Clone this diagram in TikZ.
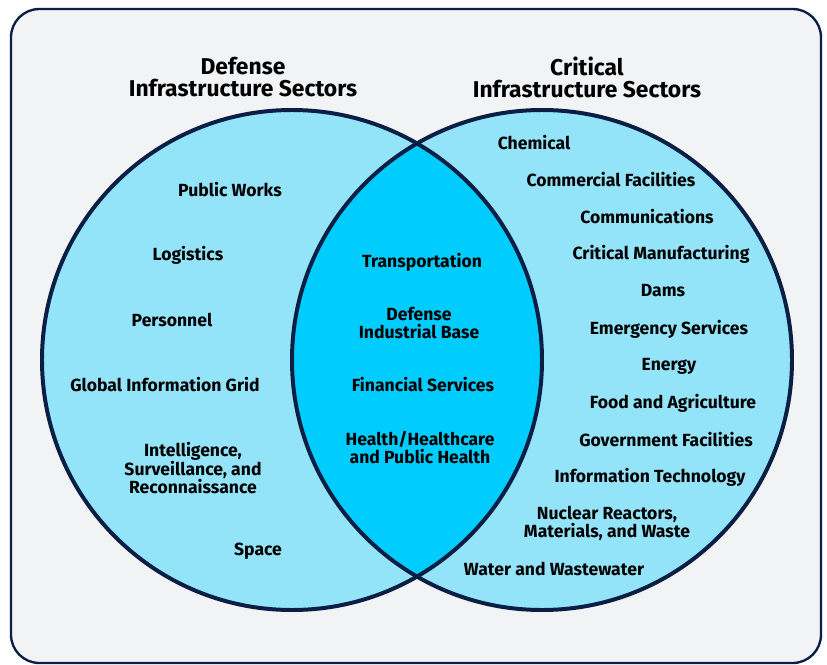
\documentclass[tikz,border=0pt]{standalone}
\usepackage{fontspec}
\setmainfont{Fira Sans}
\usepackage{tikz}
\usepackage{xcolor}
\usetikzlibrary{positioning}

\definecolor{navy}{HTML}{0B1F45}
\definecolor{panel}{HTML}{F2F3F5}
\definecolor{sky}{HTML}{93E4F9}
\definecolor{cyanmid}{HTML}{00CCFD}

\tikzset{
    sector/.style={align=center, font=\bfseries\fontsize{15}{15.4}\selectfont, inner sep=0pt},
    head/.style={align=center, font=\bfseries\fontsize{19.5}{18.8}\selectfont, inner sep=0pt},
    ring/.style={draw=navy, line width=3.4pt}
}

\begin{document}
\begin{tikzpicture}[x=0.03cm, y=-0.03cm]
    \useasboundingbox (0, 0) rectangle (827, 665);
    \draw[navy, fill=panel, line width=2pt, rounded corners=0.85cm] (11, 9) rectangle (821, 663);

    % the two sets and their overlap
    \fill[sky] (292, 360) circle (250);
    \fill[sky] (542, 360) circle (250);
    \begin{scope}
        \clip (292, 360) circle (250);
        \fill[cyanmid] (542, 360) circle (250);
    \end{scope}
    \draw[ring] (292, 360) circle (250);
    \draw[ring] (542, 360) circle (250);

    % headings
    \node[head] (dhead) at (243, 77) {Defense\\Infrastructure Sectors};
    \node[head] (chead) at (587, 77) {Critical\\Infrastructure Sectors};

    % defense only
    \node[sector] (pw) at (230, 190) {Public Works};
    \node[sector] (log) at (188, 255) {Logistics};
    \node[sector] (pers) at (172, 320) {Personnel};
    \node[sector] (gig) at (165, 385) {Global Information Grid};
    \node[sector] (isr) at (193, 468) {Intelligence,\\Surveillance, and\\Reconnaissance};
    \node[sector] (space) at (258, 551) {Space};

    % shared
    \node[sector] (trans) at (422, 262) {Transportation};
    \node[sector] (dib) at (419, 323) {Defense\\Industrial Base};
    \node[sector] (fin) at (423, 385) {Financial Services};
    \node[sector] (hph) at (420, 447) {Health/Healthcare\\and Public Health};

    % critical only
    \node[sector] (chem) at (534, 143) {Chemical};
    \node[sector] (comf) at (611, 180) {Commercial Facilities};
    \node[sector] (comm) at (647, 217) {Communications};
    \node[sector] (crit) at (661, 254) {Critical Manufacturing};
    \node[sector] (dams) at (663, 291) {Dams};
    \node[sector] (emer) at (669, 329) {Emergency Services};
    \node[sector] (ener) at (669, 366) {Energy};
    \node[sector] (food) at (673, 403) {Food and Agriculture};
    \node[sector] (gov) at (666, 440) {Government Facilities};
    \node[sector] (it) at (650, 477) {Information Technology};
    \node[sector] (nuc) at (607, 523) {Nuclear Reactors,\\Materials, and Waste};
    \node[sector] (water) at (554, 569) {Water and Wastewater};
\end{tikzpicture}
\end{document}
